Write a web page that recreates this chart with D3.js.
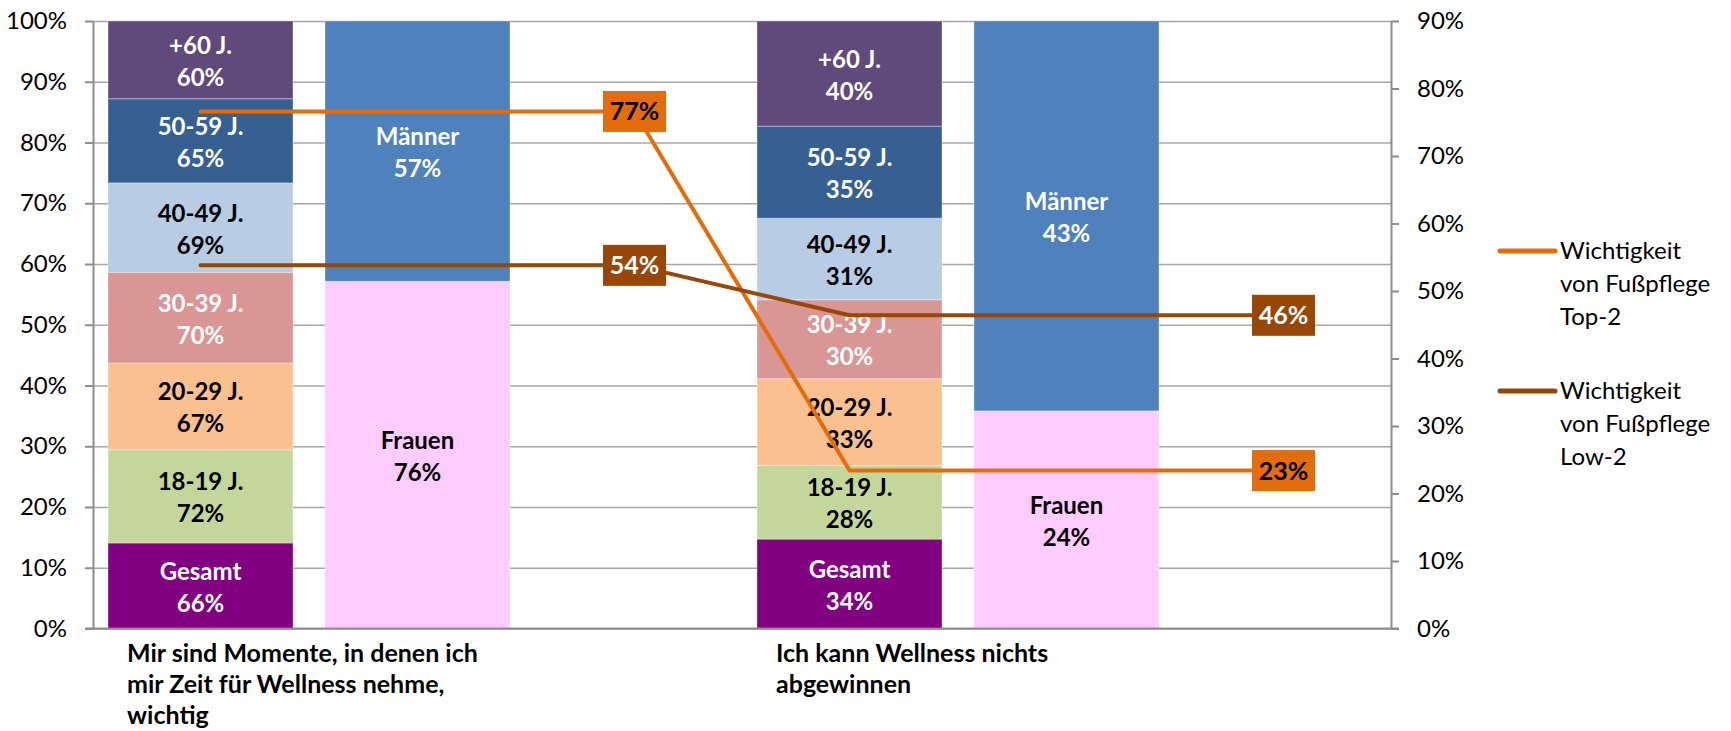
<!DOCTYPE html>
<html>
<head>
<meta charset="utf-8">
<script src="https://cdn.jsdelivr.net/npm/d3@7"></script>
<style>
  body { margin: 0; background: #fff; }
  svg { display: block; font-family: Lato, 'Open Sans', sans-serif; }
</style>
</head>
<body>
<svg></svg>
<script>
// data
const questions = ['Mir sind Momente, in denen ich mir Zeit für Wellness nehme, wichtig', 'Ich kann Wellness nichts abgewinnen'];
const questionLines = [
  ['Mir sind Momente, in denen ich', 'mir Zeit für Wellness nehme,', 'wichtig'],
  ['Ich kann Wellness nichts', 'abgewinnen']
];
const ageGroups = ['Gesamt', '18-19 J.', '20-29 J.', '30-39 J.', '40-49 J.', '50-59 J.', '+60 J.'];
const ageValues = [
  [66, 72, 67, 70, 69, 65, 60],
  [34, 28, 33, 30, 31, 35, 40]
];
const genderGroups = ['Frauen', 'Männer'];
const genderValues = [
  [76, 57],
  [24, 43]
];
const lineNames = [
  ['Wichtigkeit', 'von Fußpflege', 'Top-2'],
  ['Wichtigkeit', 'von Fußpflege', 'Low-2']
];
const top2 = [0.766, 0.234];
const low2 = [0.538, 0.464];
const leftTicks = [0, 0.1, 0.2, 0.3, 0.4, 0.5, 0.6, 0.7, 0.8, 0.9, 1];
const rightTicks = [0, 0.1, 0.2, 0.3, 0.4, 0.5, 0.6, 0.7, 0.8, 0.9];

// styles
const ageColors = ['#800080', '#C4D79B', '#FAC090', '#DA9694', '#B8CCE4', '#366092', '#604A7B'];
const ageText = ['#fff', '#000', '#000', '#fff', '#000', '#fff', '#fff'];
const genderColors = ['#FFCCFF', '#4F81BD'];
const genderText = ['#000', '#fff'];
const lineColors = ['#E46C0A', '#974706'];
const lineText = ['#000', '#fff'];

const width = 1731;
const height = 731;
const margin = { left: 93, right: 340, top: 21, bottom: 102.5 };
const plotR = width - margin.right;
const plotB = height - margin.bottom;

const svg = d3.select('svg').attr('width', width).attr('height', height);

const x0 = d3.scaleBand().domain(questions).range([margin.left, plotR]);
const x1 = d3
  .scaleBand()
  .domain(['alter', 'geschlecht', 'linie'])
  .range([0, x0.bandwidth()])
  .paddingInner(32 / 217)
  .paddingOuter(15 / 217);
const yL = d3.scaleLinear().domain([0, 1]).range([plotB, margin.top]);
const yR = d3.scaleLinear().domain([0, 0.9]).range([plotB, margin.top]);
const pct = d3.format('.0%');

// gridlines
svg
  .append('g')
  .attr('transform', `translate(${margin.left},0)`)
  .call(d3.axisLeft(yL).tickValues(leftTicks).tickSize(-(plotR - margin.left)).tickFormat(''))
  .call((g) => g.select('.domain').remove())
  .call((g) => g.selectAll('line').attr('stroke', '#A6A6A6').attr('stroke-width', 1.6));

// stacked 100% columns
function drawStack(keys, values, slot, colors, textColors) {
  const rows = values.map((v, i) => {
    const row = { q: questions[i] };
    keys.forEach((k, j) => (row[k] = v[j]));
    return row;
  });
  const series = d3.stack().keys(keys).offset(d3.stackOffsetExpand)(rows);
  const g = svg.append('g');
  series.forEach((s, si) => {
    const sg = g.append('g');
    sg.selectAll('rect')
      .data(s)
      .join('rect')
      .attr('x', (d) => x0(d.data.q) + x1(slot))
      .attr('width', x1.bandwidth())
      .attr('y', (d) => yL(d[1]))
      .attr('height', (d) => yL(d[0]) - yL(d[1]))
      .attr('fill', colors[si])
      .attr('stroke', 'rgba(255,255,255,0.35)')
      .attr('stroke-width', 1);
    const t = sg
      .selectAll('text')
      .data(s)
      .join('text')
      .attr('text-anchor', 'middle')
      .attr('font-weight', 'bold')
      .attr('font-size', 24)
      .attr('fill', textColors[si])
      .attr('x', (d) => x0(d.data.q) + x1(slot) + x1.bandwidth() / 2);
    const mid = (d) => (yL(d[0]) + yL(d[1])) / 2;
    t.append('tspan').attr('x', function () { return this.parentNode.getAttribute('x'); })
      .attr('y', (d) => mid(d) - 6).text(s.key);
    t.append('tspan').attr('x', function () { return this.parentNode.getAttribute('x'); })
      .attr('y', (d) => mid(d) + 26).text((d) => d.data[s.key] + '%');
  });
}
drawStack(ageGroups, ageValues, 'alter', ageColors, ageText);
drawStack(genderGroups, genderValues, 'geschlecht', genderColors, genderText);

// left axis
svg
  .append('g')
  .attr('transform', `translate(${margin.left},0)`)
  .call(d3.axisLeft(yL).tickValues(leftTicks).tickFormat(pct).tickSize(8).tickSizeOuter(0).tickPadding(18))
  .call((g) => g.select('.domain').attr('stroke', '#8C8C8C').attr('stroke-width', 2))
  .call((g) => g.selectAll('.tick line').attr('stroke', '#8C8C8C').attr('stroke-width', 2))
  .call((g) => g.selectAll('text').attr('font-size', 24).attr('fill', '#000').attr('font-family', 'Lato'));

// right axis
svg
  .append('g')
  .attr('transform', `translate(${plotR},0)`)
  .call(d3.axisRight(yR).tickValues(rightTicks).tickFormat(pct).tickSize(8).tickSizeOuter(0).tickPadding(18))
  .call((g) => g.select('.domain').attr('stroke', '#8C8C8C').attr('stroke-width', 2))
  .call((g) => g.selectAll('.tick line').attr('stroke', '#8C8C8C').attr('stroke-width', 2))
  .call((g) => g.selectAll('text').attr('font-size', 24).attr('fill', '#000').attr('font-family', 'Lato'));

// baseline
svg
  .append('line')
  .attr('x1', margin.left - 8)
  .attr('x2', plotR + 8)
  .attr('y1', yL(0))
  .attr('y2', yL(0))
  .attr('stroke', '#8C8C8C')
  .attr('stroke-width', 2);

// category labels
questionLines.forEach((lines, i) => {
  svg
    .append('text')
    .attr('font-weight', 'bold')
    .attr('font-size', 25)
    .selectAll('tspan')
    .data(lines)
    .join('tspan')
    .attr('x', x0(questions[i]) + x1('alter') + 19)
    .attr('y', (d, j) => plotB + 33 + j * 31)
    .text((d) => d);
});

// lines on secondary axis
[top2, low2].forEach((vals, si) => {
  const pts = [];
  vals.forEach((v, i) => {
    pts.push([x0(questions[i]) + x1('alter') + x1.bandwidth() / 2, yR(v)]);
    pts.push([x0(questions[i]) + x1('linie') + x1.bandwidth() / 2, yR(v)]);
  });
  svg
    .append('path')
    .attr('d', d3.line()(pts))
    .attr('fill', 'none')
    .attr('stroke', lineColors[si])
    .attr('stroke-width', 4)
    .attr('stroke-linecap', 'round')
    .attr('stroke-linejoin', 'round');
});

[top2, low2].forEach((vals, si) => {
  const lab = svg
    .append('g')
    .selectAll('g')
    .data(vals)
    .join('g')
    .attr('transform', (d, i) =>
      `translate(${x0(questions[i]) + x1('linie') + x1.bandwidth() / 2},${yR(d)})`);
  lab.append('rect')
    .attr('x', -31.5)
    .attr('y', -20.5)
    .attr('width', 63)
    .attr('height', 41)
    .attr('fill', lineColors[si]);
  lab.append('text')
    .attr('text-anchor', 'middle')
    .attr('dy', '0.36em')
    .attr('font-weight', 'bold')
    .attr('font-size', 25)
    .attr('fill', lineText[si])
    .text(pct);
});

// legend
const legend = svg
  .append('g')
  .selectAll('g')
  .data(lineNames)
  .join('g')
  .attr('transform', (d, i) => `translate(1500,${251 + i * 140})`);
legend
  .append('line')
  .attr('x1', 0)
  .attr('x2', 55)
  .attr('stroke', (d, i) => lineColors[i])
  .attr('stroke-width', 5)
  .attr('stroke-linecap', 'round');
legend
  .append('text')
  .attr('font-size', 24)
  .selectAll('tspan')
  .data((d) => d)
  .join('tspan')
  .attr('x', 60)
  .attr('y', (d, j) => j * 33)
  .attr('dy', '0.35em')
  .text((d) => d);
</script>
</body>
</html>
